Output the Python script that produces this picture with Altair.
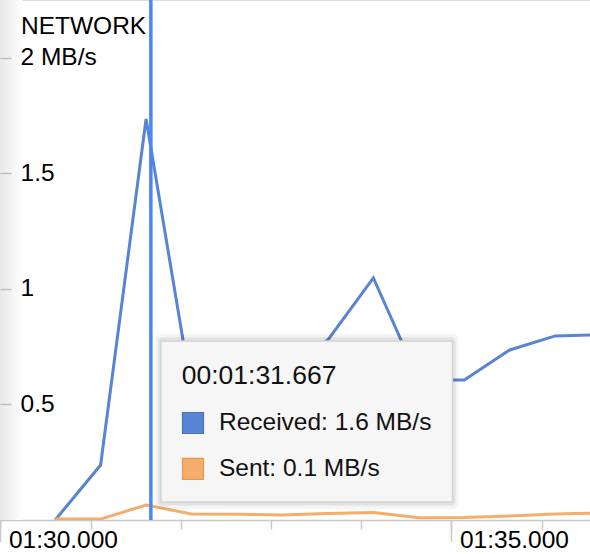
import altair as alt
import pandas as pd

# ---------------- data ----------------
times = [30.606, 31.110, 31.614, 32.118, 32.622, 33.126, 33.630,
         34.134, 34.638, 35.142, 35.646, 36.150, 36.654]
received = [0.0, 0.238, 1.736, 0.558, 0.60, 0.64, 0.78,
            1.048, 0.606, 0.606, 0.736, 0.797, 0.802]
sent = [0.004, 0.004, 0.065, 0.026, 0.025, 0.022, 0.028,
        0.032, 0.010, 0.011, 0.017, 0.026, 0.030]
series_names = ["Received", "Sent"]

y_ticks = [0.5, 1, 1.5, 2]
y_tick_labels = ["0.5", "1", "1.5", "2 MB/s"]
x_ticks = [30, 31, 32, 33, 34, 35, 36]
x_major = [30, 35]
x_major_labels = ["01:30.000", "01:35.000"]

chart_title = "NETWORK"
hover_time = 31.667
tooltip_title = "00:01:31.667"
tooltip_lines = ["Received: 1.6 MB/s", "Sent: 0.1 MB/s"]

# ---------------- styling / layout constants ----------------
FONT = "Liberation Sans"
LINE_COLORS = ["#5884d4", "#f4ad6b"]
SQUARE_STROKES = ["#4a72bd", "#e39a58"]
RULE_COLOR = "#4a86f4"
AXIS_GRAY = "#c8c8c8"

X_DOMAIN = [29.9945, 36.5355]
Y_DOMAIN = [0, 2.251]

xs = alt.Scale(domain=X_DOMAIN, nice=False, zero=False)
ys = alt.Scale(domain=Y_DOMAIN, nice=False, zero=False)


def ternary(vals, labels, default):
    expr = default
    for v, l in zip(reversed(vals), reversed(labels)):
        expr = f"datum.value == {v} ? '{l}' : ({expr})"
    return expr


x_axis = alt.Axis(
    values=x_ticks, tickSize=9, tickColor=AXIS_GRAY, tickWidth=1.5,
    domainColor=AXIS_GRAY, domainWidth=1.5, grid=False, title=None,
    labelExpr=ternary(x_major, x_major_labels, "''"),
    labelAlign="left", labelBaseline="top", labelOffset=8, labelPadding=-1,
    labelFont=FONT, labelFontSize=24.5, labelColor="#000000",
    labelFlush=False, labelOverlap=False,
)
y_axis = alt.Axis(
    orient="right", offset=-590, values=y_ticks, tickSize=11,
    tickColor="#c0c0c0", tickWidth=1.5, domain=False, grid=False, title=None,
    labelExpr=ternary(y_ticks, y_tick_labels, "datum.label"),
    labelAlign="left", labelBaseline="middle", labelPadding=9,
    labelFont=FONT, labelFontSize=24.5, labelColor="#000000",
    labelOverlap=False, labelFlush=False, zindex=1,
)


def xf(field):
    return alt.X(field, type="quantitative", scale=xs, axis=x_axis)


def yf(field):
    return alt.Y(field, type="quantitative", scale=ys, axis=y_axis)


def xd(v):
    return alt.X(datum=v, type="quantitative", scale=xs, axis=x_axis)


def yd(v):
    return alt.Y(datum=v, type="quantitative", scale=ys, axis=y_axis)


one = pd.DataFrame({"k": [0]})

# left-edge soft shade
shade = alt.Chart(one).mark_rect(
    color=alt.Gradient(
        gradient="linear",
        stops=[alt.GradientStop(color="#e8e8e8", offset=0),
               alt.GradientStop(color="#ffffff", offset=1)],
        x1=0, x2=1, y1=0, y2=0,
    )
).encode(x=xd(X_DOMAIN[0]), x2=alt.X2(datum=30.245),
         y=yd(0), y2=alt.Y2(datum=Y_DOMAIN[1]))

# lines
df = pd.DataFrame({
    "t": times + times,
    "v": received + sent,
    "series": [series_names[0]] * len(times) + [series_names[1]] * len(times),
    "order": list(range(len(times))) * 2,
})

lines = alt.Chart(df).mark_line(strokeWidth=3, clip=True).encode(
    x=xf("t"),
    y=yf("v"),
    color=alt.Color("series:N", scale=alt.Scale(domain=series_names, range=LINE_COLORS), legend=None),
    order="order:Q",
)

# long ticks for labelled times
major_ticks = alt.Chart(pd.DataFrame({"t": x_major})).mark_rule(
    color=AXIS_GRAY, strokeWidth=1.5, clip=False
).encode(x=xf("t"), y=yd(0), y2=alt.Y2(datum=-0.095))

# hover rule
hover = alt.Chart(pd.DataFrame({"t": [hover_time]})).mark_rule(
    color=RULE_COLOR, strokeWidth=3.5
).encode(x=xf("t"))

# tooltip box (shadow + box)
shadow_outer = alt.Chart(one).mark_rect(color="#000000", opacity=0.045, cornerRadius=6).encode(
    x=xd(31.713), x2=alt.X2(datum=35.077), y=yd(0.048), y2=alt.Y2(datum=0.806))
shadow_inner = alt.Chart(one).mark_rect(color="#000000", opacity=0.07, cornerRadius=4).encode(
    x=xd(31.746), x2=alt.X2(datum=35.044), y=yd(0.063), y2=alt.Y2(datum=0.791))
box = alt.Chart(one).mark_rect(fill="#f6f6f6", stroke="#d4d4d4", strokeWidth=1.5).encode(
    x=xd(31.779), x2=alt.X2(datum=35.011), y=yd(0.078), y2=alt.Y2(datum=0.775))

tip_title = alt.Chart(pd.DataFrame({"label": [tooltip_title]})).mark_text(
    align="left", baseline="middle", font=FONT, fontSize=26.5, color="#111111"
).encode(x=xd(32.009), y=yd(0.623), text="label:N")

rows = pd.DataFrame({"series": series_names, "label": tooltip_lines, "row": [0.42, 0.221]})
squares = alt.Chart(rows).mark_square(size=441, opacity=1, filled=True, strokeWidth=1.2).encode(
    x=xd(32.134), y=yf("row"),
    fill=alt.Fill("series:N", scale=alt.Scale(domain=series_names, range=LINE_COLORS), legend=None),
    stroke=alt.Stroke("series:N", scale=alt.Scale(domain=series_names, range=SQUARE_STROKES), legend=None),
)
row_text = alt.Chart(rows).mark_text(
    align="left", baseline="middle", font=FONT, fontSize=24.5, color="#111111"
).encode(x=xd(32.422), y=yf("row"), text="label:N")

title = alt.Chart(pd.DataFrame({"label": [chart_title]})).mark_text(
    align="left", baseline="middle", font=FONT, fontSize=24.5, color="#000000"
).encode(x=xd(30.227), y=yd(2.135), text="label:N")

chart = alt.layer(
    shade, lines, major_ticks, hover, shadow_outer, shadow_inner, box,
    tip_title, squares, row_text, title
).properties(
    width=590, height=520,
    padding={"left": 0, "right": 0, "top": 0, "bottom": 34},
    autosize=alt.AutoSizeParams(type="none"),
).configure_view(strokeWidth=0).configure(background="white")

chart.save("out.html", embed_options={"renderer": "svg", "actions": False})
